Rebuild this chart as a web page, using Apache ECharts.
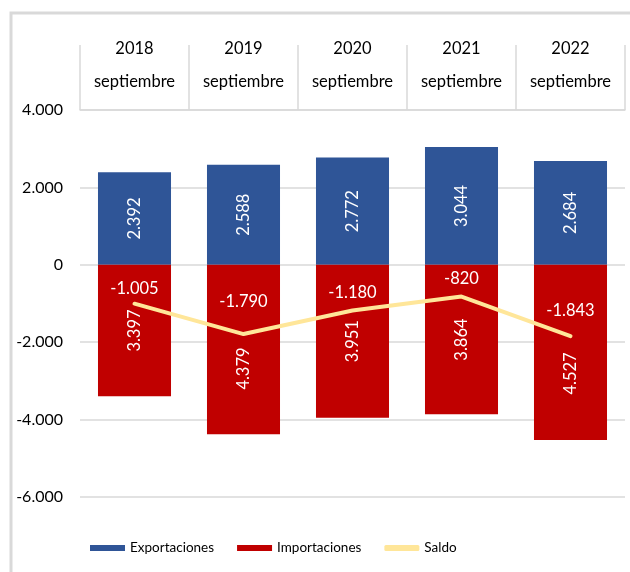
<!DOCTYPE html>
<html>
<head>
<meta charset="utf-8">
<script src="https://cdn.jsdelivr.net/npm/echarts@6/dist/echarts.min.js"></script>
<style>
html,body{margin:0;padding:0;background:#fff;}
#c{width:630px;height:572px;}
</style>
</head>
<body>
<div id="c"></div>
<script>
const years = ['2018','2019','2020','2021','2022'];
const months = ['septiembre','septiembre','septiembre','septiembre','septiembre'];
const exportaciones = [2392, 2588, 2772, 3044, 2684];
const importaciones = [-3397, -4379, -3951, -3864, -4527];
const saldo = [-1005, -1790, -1180, -820, -1843];
const yTicks = { min: -6000, max: 4000, interval: 2000 };
// label placement tweaks (style only)
const saldoLabelGap = [6, 24, 9, 9, 17];
const impLabelShift = [0, 19, 0, 0, 21];

function fmt(v){
  const s = Math.abs(Math.round(v)).toString().replace(/\B(?=(\d{3})+(?!\d))/g, '.');
  return (v < 0 ? '-' : '') + s;
}
const FONT = 'Lato, "Open Sans", sans-serif';
const cats = years.map((y,i)=> y + '\n' + months[i]);

const chart = echarts.init(document.getElementById('c'), null, {renderer:'canvas'});
chart.setOption({
  animation: false,
  backgroundColor: '#fff',
  textStyle: { fontFamily: FONT },
  graphic: [{
    type: 'rect', z: -10,
    shape: { x: 11, y: 13, width: 660, height: 620 },
    style: { fill: 'none', stroke: '#d9d9d9', lineWidth: 3 }
  }],
  grid: { left: 80, right: 5, top: 110, bottom: 75 },
  legend: {
    bottom: 12, left: 85,
    itemWidth: 35, itemHeight: 6, itemGap: 23,
    textStyle: { fontFamily: FONT, fontSize: 13.5, color: '#000' },
    data: [
      { name: 'Exportaciones', icon: 'rect' },
      { name: 'Importaciones', icon: 'rect' },
      { name: 'Saldo', icon: 'roundRect' }
    ]
  },
  xAxis: {
    type: 'category', position: 'top', data: cats,
    axisLine: { onZero: false, lineStyle: { color: '#d9d9d9', width: 1.5 } },
    axisTick: { show: true, length: 65, interval: 0, lineStyle: { color: '#d9d9d9', width: 1.5 } },
    axisLabel: { interval: 0, margin: 12, fontSize: 16.5, lineHeight: 33, color: '#000', fontFamily: FONT }
  },
  yAxis: {
    type: 'value', min: yTicks.min, max: yTicks.max, interval: yTicks.interval,
    axisLine: { show: false }, axisTick: { show: false },
    splitLine: { lineStyle: { color: '#d9d9d9', width: 1.5 } },
    axisLabel: { formatter: fmt, fontSize: 16, color: '#000', margin: 17, fontFamily: FONT }
  },
  series: [
    {
      name: 'Exportaciones', type: 'bar', data: exportaciones, barWidth: '67%', barGap: '-100%',
      itemStyle: { color: '#2F5597' },
      label: { show: true, position: 'inside', rotate: 90, color: '#fff', fontSize: 16.5, fontFamily: FONT,
        formatter: p => fmt(Math.abs(p.value)) }
    },
    {
      name: 'Importaciones', type: 'bar', barWidth: '67%', barGap: '-100%',
      data: importaciones.map((v,i)=>({ value: v, label: { offset: [-impLabelShift[i], 0] } })),
      itemStyle: { color: '#C00000' },
      label: { show: true, position: 'inside', rotate: 90, color: '#fff', fontSize: 16.5, fontFamily: FONT,
        formatter: p => fmt(Math.abs(p.value)) }
    },
    {
      name: 'Saldo', type: 'line', z: 5,
      data: saldo.map((v,i)=>({ value: v, label: { distance: saldoLabelGap[i] } })),
      symbol: 'circle', symbolSize: 0.5, showSymbol: true,
      lineStyle: { color: '#FFE699', width: 4, cap: 'round' },
      itemStyle: { color: '#FFE699' },
      label: { show: true, position: 'top', color: '#fff', fontSize: 16.5, fontFamily: FONT,
        formatter: p => fmt(p.value) }
    }
  ]
});
</script>
</body>
</html>
